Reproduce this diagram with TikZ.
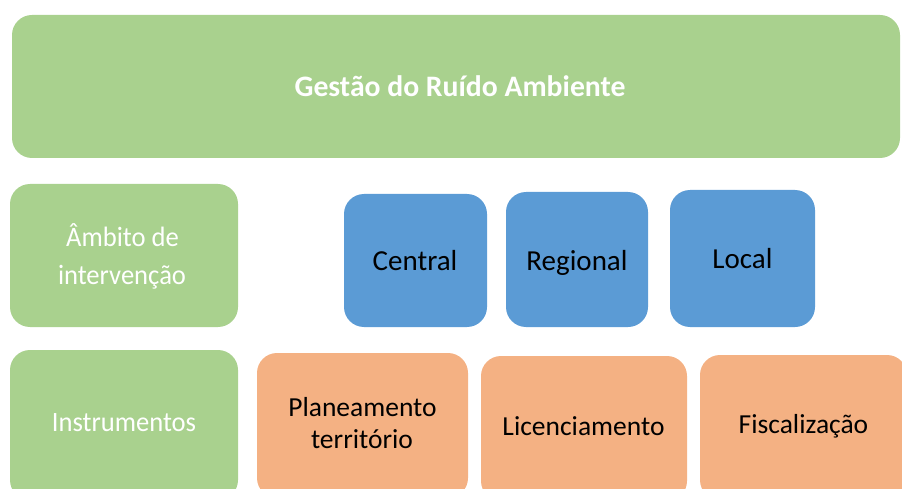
\documentclass[tikz,border=0pt]{standalone}
\usepackage{fontspec}
\setmainfont{Carlito}
\newfontfamily\condfont{Carlito}[FakeStretch=0.95]
\definecolor{gbox}{HTML}{A9D18E}
\definecolor{bbox}{HTML}{5B9BD5}
\definecolor{obox}{HTML}{F4B183}
\begin{document}
\begin{tikzpicture}[x=1pt,y=-1pt,
  box/.style={draw=none, rounded corners=20pt, inner sep=0pt, outer sep=0pt},
  gb/.style={box, fill=gbox},
  bb/.style={box, fill=bbox},
  ob/.style={box, fill=obox},
  lbl/.style={inner sep=0pt, anchor=base},
  wlbl/.style={lbl, text=white, font=\condfont\fontsize{28}{32}\selectfont},
  blbl/.style={lbl, text=black, font=\fontsize{29}{34}\selectfont},
  olbl/.style={lbl, text=black, font=\fontsize{27.5}{32}\selectfont}]
\useasboundingbox (0,0) rectangle (902,489);
\clip (0,0) rectangle (902,489);
% top
\node[gb, minimum width=888pt, minimum height=143pt] (top) at (456,86.5) {};
\node[lbl, text=white, font=\fontsize{29.7}{36}\selectfont\bfseries] (toptxt) at (460,97) {Gestão do Ruído Ambiente};
% row 2
\node[gb, minimum width=228pt, minimum height=143pt] (amb) at (124,255.5) {};
\node[wlbl] (amb1) at (122.5,247) {Âmbito de};
\node[wlbl] (amb2) at (122,284) {intervenção};
\node[bb, minimum width=143pt, minimum height=133pt] (central) at (415.5,260.5) {};
\node[blbl] (centraltxt) at (415,270) {Central};
\node[bb, minimum width=142pt, minimum height=135pt] (regional) at (577,259.5) {};
\node[blbl] (regionaltxt) at (577,270) {Regional};
\node[bb, minimum width=145pt, minimum height=137pt] (local) at (742.5,258.5) {};
\node[blbl] (localtxt) at (742.5,268) {Local};
% row 3
\node[gb, minimum width=228pt, minimum height=150pt] (instr) at (124,425) {};
\node[wlbl] (instrtxt) at (124,431.5) {Instrumentos};
\node[ob, minimum width=211pt, minimum height=145pt] (plan) at (362.5,425.5) {};
\node[olbl] (plan1) at (362.5,416) {Planeamento};
\node[olbl] (plan2) at (362,448) {território};
\node[ob, minimum width=206pt, minimum height=145pt] (lic) at (584,428.5) {};
\node[olbl] (lictxt) at (583.5,435) {Licenciamento};
\node[ob, minimum width=207pt, minimum height=145pt] (fisc) at (803.5,427.5) {};
\node[olbl] (fisctxt) at (803.5,433) {Fiscalização};
\end{tikzpicture}
\end{document}
